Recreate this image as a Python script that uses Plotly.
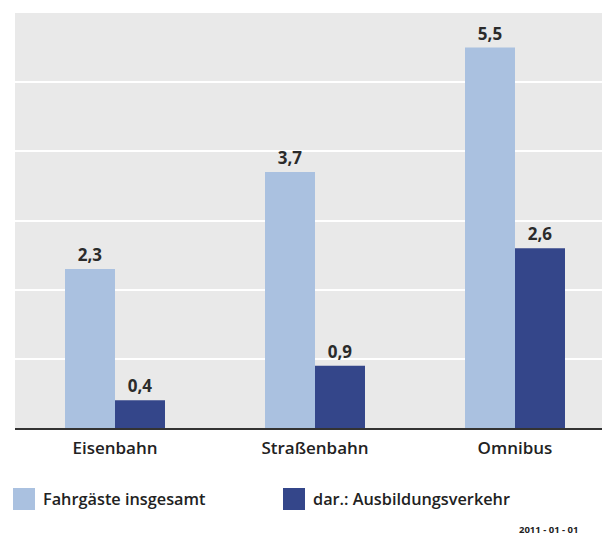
import plotly.graph_objects as go

categories = ["Eisenbahn", "Straßenbahn", "Omnibus"]
series_names = ["Fahrgäste insgesamt", "dar.: Ausbildungsverkehr"]
fahrgaeste = [2.3, 3.7, 5.5]
ausbildung = [0.4, 0.9, 2.6]
colors = ["#aac1e0", "#34468a"]

def fmt(v):
    return f"{v:.1f}".replace(".", ",")

W, H = 602, 536
ML, MR, MT, MB = 15, 0, 13, 108
FONT = "Open Sans"
PW, PH = W - ML - MR, H - MT - MB

def px_x(px):
    return (px - ML) / PW

def px_y(py):
    return (H - MB - py) / PH

fig = go.Figure()
for name, vals, col in zip(series_names, [fahrgaeste, ausbildung], colors):
    fig.add_trace(go.Bar(
        x=categories, y=vals, name=name, marker=dict(color=col, line=dict(width=0)),
        text=[fmt(v) for v in vals], textposition="outside",
        textfont=dict(family=FONT, size=17, color="#2b2b2b", weight="bold"),
        cliponaxis=False, showlegend=False,
    ))

fig.update_layout(
    width=W, height=H,
    margin=dict(l=ML, r=MR, t=MT, b=MB),
    paper_bgcolor="white", plot_bgcolor="#e9e9e9",
    barmode="group", bargap=0.5, bargroupgap=0,
    font=dict(family=FONT, color="#2b2b2b"),
    xaxis=dict(range=[-0.5, 2.435], showline=True, linecolor="#333333", linewidth=2,
               ticks="", ticklabelstandoff=4,
               tickfont=dict(size=17, color="#222222", weight=600),
               showgrid=False, fixedrange=True),
    yaxis=dict(range=[0, 6], dtick=1, showticklabels=False, showgrid=True,
               gridcolor="white", gridwidth=2, zeroline=False, showline=False,
               fixedrange=True),
)

# Manual legend with square swatches
leg_items = [(series_names[0], colors[0], 13), (series_names[1], colors[1], 283)]
for name, col, px in leg_items:
    fig.add_shape(type="rect", xref="paper", yref="paper",
                  x0=px_x(px), x1=px_x(px + 22), y0=px_y(510), y1=px_y(488),
                  fillcolor=col, line=dict(width=0))
    fig.add_annotation(xref="paper", yref="paper",
                       x=px_x(px + 28), y=px_y(499),
                       xanchor="left", yanchor="middle", showarrow=False,
                       text=name, font=dict(family=FONT, size=16.3, color="#222222", weight=600))

fig.add_annotation(xref="paper", yref="paper",
                   x=px_x(517), y=px_y(529),
                   xanchor="left", yanchor="middle", showarrow=False,
                   text="<b>2011 - 01 - 01</b>", font=dict(family=FONT, size=9.5, color="#222"))

fig.write_html("out.html", config={"displayModeBar": False},
               post_script="document.body.style.margin='0';document.body.style.padding='0';")
